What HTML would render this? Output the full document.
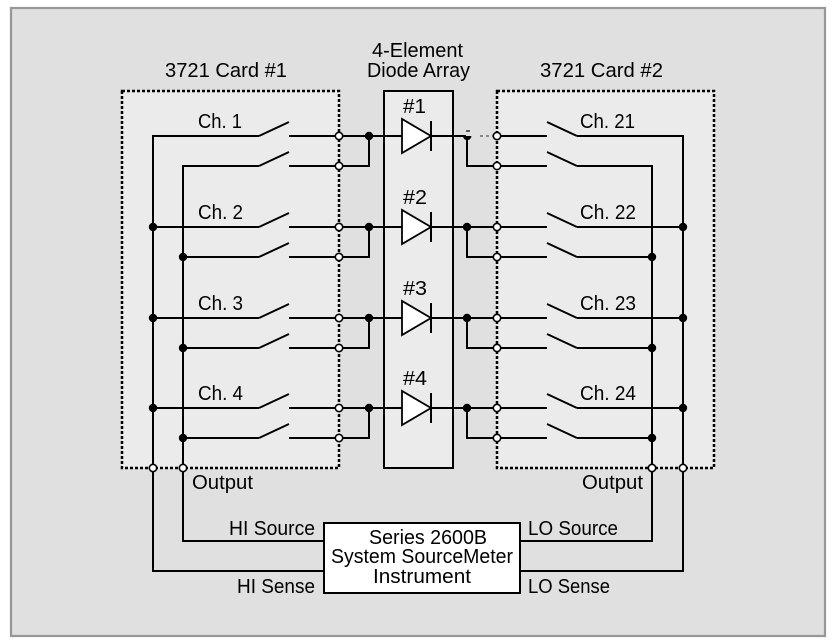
<!DOCTYPE html>
<html><head><meta charset="utf-8"><style>
html,body{margin:0;padding:0;background:#fff;}
svg{display:block;}
text{font-family:"Liberation Sans",sans-serif;font-size:20px;fill:#000;}
</style></head><body>
<svg width="837" height="643" viewBox="0 0 837 643" xmlns="http://www.w3.org/2000/svg">
<rect x="11" y="8" width="814" height="628" fill="#e0e0e0" stroke="#979797" stroke-width="2.2"/>

<!-- cards and boxes -->
<rect x="122" y="91" width="217" height="377" fill="#ebebeb" stroke="#000" stroke-width="2.5" stroke-dasharray="3 2"/>
<rect x="497" y="91" width="217" height="377" fill="#ebebeb" stroke="#000" stroke-width="2.5" stroke-dasharray="3 2"/>
<rect x="384" y="91" width="69" height="377" fill="#ebebeb" stroke="#000" stroke-width="2"/>

<g fill="none" stroke="#000" stroke-width="2">
<!-- left buses -->
<path d="M259 136 H153 V571 H324"/>
<path d="M259 166 H183 V541 H324"/>
<!-- right buses -->
<path d="M577 136 H683 V571 H520"/>
<path d="M577 166 H652 V541 H520"/>

<!-- left rows -->
<path d="M153 227 H259 M153 318 H259 M153 408 H259"/>
<path d="M183 257 H259 M183 348 H259 M183 438 H259"/>
<!-- left blades -->
<path d="M259 136 L289 122 M259 166 L289 152 M259 227 L289 213 M259 257 L289 243 M259 318 L289 304 M259 348 L289 334 M259 408 L289 394 M259 438 L289 424"/>
<!-- left right-segments to diode -->
<path d="M289 136 H402 M289 166 H369 V136"/>
<path d="M289 227 H402 M289 257 H369 V227"/>
<path d="M289 318 H402 M289 348 H369 V318"/>
<path d="M289 408 H402 M289 438 H369 V408"/>

<!-- right side from diode -->
<path d="M431 136 H466 M467 136 V166 H547 M497 136 H547"/>
<path d="M431 227 H547 M467 227 V257 H547"/>
<path d="M431 318 H547 M467 318 V348 H547"/>
<path d="M431 408 H547 M467 408 V438 H547"/>
<!-- right blades -->
<path d="M547 122 L577 136 M547 152 L577 166 M547 213 L577 227 M547 243 L577 257 M547 304 L577 318 M547 334 L577 348 M547 394 L577 408 M547 424 L577 438"/>
<!-- right rows to buses -->
<path d="M577 227 H683 M577 318 H683 M577 408 H683"/>
<path d="M577 257 H652 M577 348 H652 M577 438 H652"/>

<!-- instrument box -->
<rect x="324" y="523" width="196" height="70" fill="#fff"/>
</g>
<path d="M480 136 H495" stroke="#555" stroke-width="1.2" stroke-dasharray="3 3" fill="none"/>
<path d="M466 131 H470" stroke="#000" stroke-width="1.2"/>

<!-- diodes -->
<g fill="#fff" stroke="#000" stroke-width="1.8">
<path d="M402 119 L402 153 L431 136 Z"/>
<path d="M402 210 L402 244 L431 227 Z"/>
<path d="M402 301 L402 335 L431 318 Z"/>
<path d="M402 391 L402 425 L431 408 Z"/>
</g>
<g stroke="#000" stroke-width="2">
<path d="M431 121 V151 M431 212 V242 M431 303 V333 M431 393 V423"/>
</g>

<!-- filled dots -->
<g fill="#000">
<circle cx="369" cy="136" r="4.2"/><circle cx="369" cy="227" r="4.2"/><circle cx="369" cy="318" r="4.2"/><circle cx="369" cy="408" r="4.2"/>
<circle cx="153" cy="227" r="4.2"/><circle cx="153" cy="318" r="4.2"/><circle cx="153" cy="408" r="4.2"/>
<circle cx="183" cy="257" r="4.2"/><circle cx="183" cy="348" r="4.2"/><circle cx="183" cy="438" r="4.2"/>
<path d="M463 136 A4.2 4.2 0 0 0 471.4 136 Z"/>
<circle cx="467" cy="227" r="4.2"/><circle cx="467" cy="318" r="4.2"/><circle cx="467" cy="408" r="4.2"/>
<circle cx="683" cy="227" r="4.2"/><circle cx="683" cy="318" r="4.2"/><circle cx="683" cy="408" r="4.2"/>
<circle cx="652" cy="257" r="4.2"/><circle cx="652" cy="348" r="4.2"/><circle cx="652" cy="438" r="4.2"/>
</g>

<!-- open circles -->
<g fill="#fff" stroke="#000" stroke-width="1.6">
<circle cx="339" cy="136" r="3.7"/><circle cx="339" cy="166" r="3.7"/>
<circle cx="339" cy="227" r="3.7"/><circle cx="339" cy="257" r="3.7"/>
<circle cx="339" cy="318" r="3.7"/><circle cx="339" cy="348" r="3.7"/>
<circle cx="339" cy="408" r="3.7"/><circle cx="339" cy="438" r="3.7"/>
<circle cx="497" cy="136" r="3.7"/><circle cx="497" cy="166" r="3.7"/>
<circle cx="497" cy="227" r="3.7"/><circle cx="497" cy="257" r="3.7"/>
<circle cx="497" cy="318" r="3.7"/><circle cx="497" cy="348" r="3.7"/>
<circle cx="497" cy="408" r="3.7"/><circle cx="497" cy="438" r="3.7"/>
<circle cx="153" cy="468" r="3.7"/><circle cx="183" cy="468" r="3.7"/>
<circle cx="652" cy="468" r="3.7"/><circle cx="683" cy="468" r="3.7"/>
</g>

<!-- instrument box outline -->
<rect x="324" y="523" width="196" height="70" fill="none" stroke="#000" stroke-width="2"/>

<!-- text -->
<text x="165" y="77" textLength="122" lengthAdjust="spacingAndGlyphs">3721 Card #1</text>
<text x="540" y="77" textLength="123" lengthAdjust="spacingAndGlyphs">3721 Card #2</text>
<text x="372" y="57" textLength="91" lengthAdjust="spacingAndGlyphs">4-Element</text>
<text x="367" y="77" textLength="103" lengthAdjust="spacingAndGlyphs">Diode Array</text>

<text x="198" y="128" textLength="44" lengthAdjust="spacingAndGlyphs">Ch. 1</text>
<text x="198" y="219" textLength="45" lengthAdjust="spacingAndGlyphs">Ch. 2</text>
<text x="198" y="310" textLength="45" lengthAdjust="spacingAndGlyphs">Ch. 3</text>
<text x="198" y="400" textLength="45" lengthAdjust="spacingAndGlyphs">Ch. 4</text>

<text x="580" y="128" textLength="55" lengthAdjust="spacingAndGlyphs">Ch. 21</text>
<text x="580" y="219" textLength="56" lengthAdjust="spacingAndGlyphs">Ch. 22</text>
<text x="580" y="310" textLength="56" lengthAdjust="spacingAndGlyphs">Ch. 23</text>
<text x="580" y="400" textLength="56" lengthAdjust="spacingAndGlyphs">Ch. 24</text>

<text x="403" y="113" textLength="23" lengthAdjust="spacingAndGlyphs">#1</text>
<text x="403" y="204" textLength="24" lengthAdjust="spacingAndGlyphs">#2</text>
<text x="403" y="295" textLength="24" lengthAdjust="spacingAndGlyphs">#3</text>
<text x="403" y="385" textLength="24" lengthAdjust="spacingAndGlyphs">#4</text>

<text x="192" y="489" textLength="61" lengthAdjust="spacingAndGlyphs">Output</text>
<text x="582" y="489" textLength="61" lengthAdjust="spacingAndGlyphs">Output</text>

<text x="229" y="535" textLength="86" lengthAdjust="spacingAndGlyphs">HI Source</text>
<text x="237" y="593" textLength="78" lengthAdjust="spacingAndGlyphs">HI Sense</text>
<text x="528" y="535" textLength="90" lengthAdjust="spacingAndGlyphs">LO Source</text>
<text x="528" y="593" textLength="82" lengthAdjust="spacingAndGlyphs">LO Sense</text>

<text x="369" y="544" textLength="118" lengthAdjust="spacingAndGlyphs">Series 2600B</text>
<text x="331" y="563" textLength="182" lengthAdjust="spacingAndGlyphs">System SourceMeter</text>
<text x="373" y="583" textLength="98" lengthAdjust="spacingAndGlyphs">Instrument</text>
</svg>
</body></html>
